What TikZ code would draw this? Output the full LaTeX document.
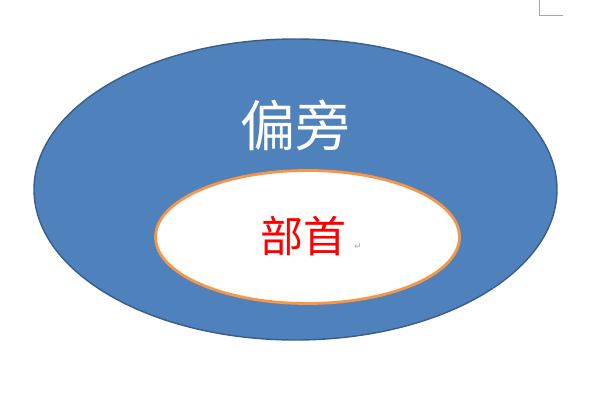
\documentclass[tikz,border=0pt]{standalone}
\usepackage{fontspec}
\newfontfamily\cjk{Noto Sans CJK SC}
\newfontfamily\dejavu{DejaVu Sans}
\definecolor{outerfill}{HTML}{4F81BD}
\definecolor{outerline}{HTML}{385D8A}
\definecolor{innerline}{HTML}{F79646}
\definecolor{markgray}{HTML}{A6A6A6}
\tikzset{
  outerell/.style={ellipse, draw=outerline, fill=outerfill, line width=1.4pt, minimum width=523pt, minimum height=301pt, inner sep=0pt},
  innerell/.style={ellipse, draw=innerline, fill=white, line width=2.8pt, minimum width=304pt, minimum height=133pt, inner sep=0pt},
  bigtext/.style={font=\cjk\fontsize{55}{55}\selectfont, inner sep=0pt},
  marktext/.style={font=\dejavu\fontsize{9}{9}\selectfont, text=markgray, inner sep=0pt}
}
\usetikzlibrary{shapes.geometric}
\begin{document}
\begin{tikzpicture}[x=1pt,y=-1pt]
\useasboundingbox (0,0) rectangle (595,401);
\node[outerell] (outer) at (295.5,189.5) {};
\node[innerell] (inner) at (307.5,237) {};
\node[bigtext, text=white] (pianpang) at (295,125) {偏旁};
\node[bigtext, text=red, font=\cjk\fontsize{43}{43}\selectfont] (bushou) at (303.5,236) {部首};
\node[marktext] (ret) at (358,247) {↵};
\coordinate (c1) at (539.5,0);
\coordinate (c2) at (539.5,15.5);
\coordinate (c3) at (563,15.5);
\draw[markgray, line width=0.8pt] (c1) -- (c2) -- (c3);
\end{tikzpicture}
\end{document}
